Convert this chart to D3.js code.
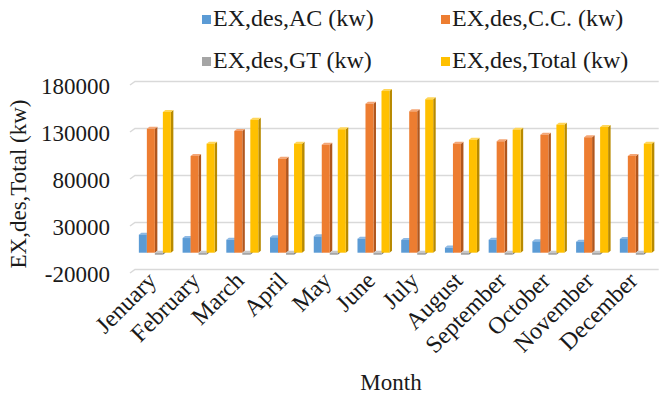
<!DOCTYPE html>
<html>
<head>
<meta charset="utf-8">
<script src="https://cdn.jsdelivr.net/npm/d3@7"></script>
<style>
  html, body { margin: 0; padding: 0; background: #fff; }
  svg { display: block; }
  text { font-family: "Liberation Serif", "Times New Roman", serif; fill: #1a1a1a; }
</style>
</head>
<body>
<svg id="chart" width="660" height="396"></svg>
<script>
// Monthly exergy destruction by component (kW)
const months = ["Jenuary", "February", "March", "April", "May", "June",
                "July", "August", "September", "October", "November", "December"];
const acValues    = [19200, 15600, 13800, 16400, 17400, 14900, 13500, 5500, 13800, 12100, 11700, 14600];
const ccValues    = [131900, 102900, 129500, 100000, 114900, 158500, 150400, 116000, 118500, 125500, 122800, 102900];
const gtValues    = [-2200, -2200, -2200, -2200, -2200, -2200, -2200, -2200, -2200, -2200, -2200, -2200];
const totalValues = [149700, 116000, 141500, 116000, 131300, 172000, 163200, 120200, 130900, 136200, 133700, 116000];
const yTicks = [-20000, 30000, 80000, 130000, 180000];

const seriesNames = ["EX,des,AC (kw)", "EX,des,C.C. (kw)", "EX,des,GT (kw)", "EX,des,Total (kw)"];
const seriesValues = [acValues, ccValues, gtValues, totalValues];
const faceColors = ["#5B9BD5", "#ED7D31", "#A5A5A5", "#FFC000"];
const sideColors = ["#3F73A3", "#B0561D", "#7B7B7B", "#B88A00"];
const topColors  = ["#8DB9E4", "#F4A676", "#C8C8C8", "#FFD659"];

const svg = d3.select("#chart");

// geometry of the 3D plot box
const left = 130, right = 654.7;
const wallDx = 5, wallDy = -3.5;      // back wall offset
const barDx = 2.5, barDy = -2;        // bar depth offset
const y = d3.scaleLinear().domain([-20000, 180000]).range([273, 85]);
const x0 = d3.scaleBand().domain(months).range([left, right]);
const groupW = 32;
const x1 = d3.scaleBand().domain(d3.range(4)).range([0, groupW]);

// gridlines: short diagonal on the side wall, then along the back wall
const grid = svg.append("g");
yTicks.forEach(t => {
  const yy = y(t);
  grid.append("path")
    .attr("d", `M${left},${yy} L${left + wallDx},${yy + wallDy} L${right + 4},${yy + wallDy}`)
    .attr("fill", "none")
    .attr("stroke", "#D9D9D9")
    .attr("stroke-width", 1.5);
});

// y tick labels
svg.append("g").selectAll("text").data(yTicks).join("text")
  .attr("x", 110)
  .attr("y", d => y(d) + 3.5)
  .attr("text-anchor", "end")
  .attr("dominant-baseline", "middle")
  .attr("font-size", 23)
  .text(d => d);

// bars (drawn left to right so each front face covers its neighbour's side)
const barsG = svg.append("g");
const yBar = v => y(v) - 1.5;
months.forEach((m, i) => {
  const gx = x0(m) + x0.bandwidth() / 2 - groupW / 2 + 3;
  seriesValues.forEach((vals, s) => {
    const v = vals[i];
    const bx = gx + x1(s);
    const w = x1.bandwidth();
    const yTop = Math.min(yBar(v), yBar(0));
    const yBot = Math.max(yBar(v), yBar(0));
    const g = barsG.append("g");
    // right side face
    g.append("path")
      .attr("d", `M${bx + w},${yTop} L${bx + w + barDx},${yTop + barDy} L${bx + w + barDx},${yBot + barDy} L${bx + w},${yBot} Z`)
      .attr("fill", sideColors[s]);
    // top face
    g.append("path")
      .attr("d", `M${bx},${yTop} L${bx + barDx},${yTop + barDy} L${bx + w + barDx},${yTop + barDy} L${bx + w},${yTop} Z`)
      .attr("fill", topColors[s]);
    // front face
    g.append("rect")
      .attr("x", bx).attr("y", yTop)
      .attr("width", w).attr("height", Math.max(0.5, yBot - yTop))
      .attr("fill", faceColors[s]);
  });
});

// month labels, rotated
svg.append("g").selectAll("text").data(months).join("text")
  .attr("text-anchor", "end")
  .attr("font-size", 24)
  .attr("transform", d => `translate(${x0(d) + x0.bandwidth() / 2 + 6},${282}) rotate(-45)`)
  .text(d => d);

// axis titles
svg.append("text")
  .attr("x", 391).attr("y", 390)
  .attr("text-anchor", "middle")
  .attr("font-size", 23)
  .text("Month");

svg.append("text")
  .attr("transform", "translate(26,184) rotate(-90)")
  .attr("text-anchor", "middle")
  .attr("font-size", 23)
  .text("EX,des,Total (kw)");

// legend, two rows of two
const legend = svg.append("g");
const legendPos = [[202, 20], [441, 20], [202, 62], [441, 62]];
seriesNames.forEach((name, s) => {
  const [lx, ly] = legendPos[s];
  legend.append("rect")
    .attr("x", lx).attr("y", ly - 5)
    .attr("width", 9).attr("height", 9)
    .attr("fill", faceColors[s]);
  legend.append("text")
    .attr("x", lx + 11).attr("y", ly)
    .attr("dominant-baseline", "middle")
    .attr("font-size", 24)
    .text(name);
});
</script>
</body>
</html>
